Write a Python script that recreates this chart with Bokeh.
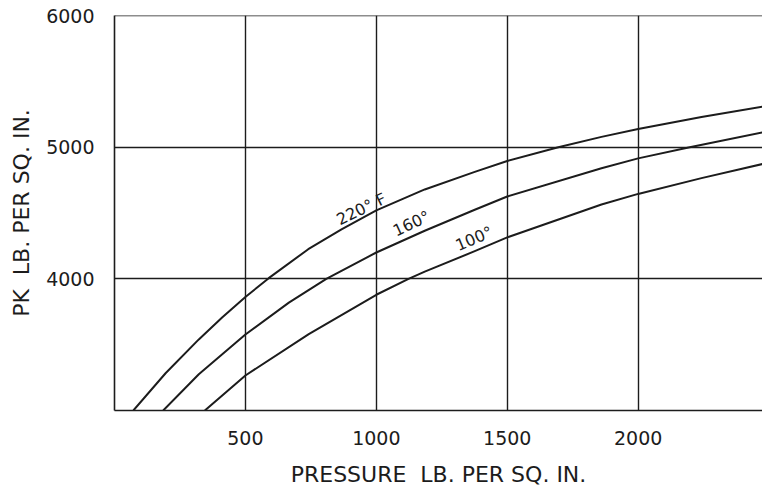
from bokeh.plotting import figure
from bokeh.models import Range1d, FixedTicker, Span, Label
from bokeh.embed import file_html
from bokeh.resources import INLINE

# Data
x_220 = [72, 195, 322, 411, 500, 589, 740, 867, 1000, 1185, 1376, 1500, 1695, 1860, 2000, 2242, 2475]
y_220 = [3000, 3283, 3540, 3706, 3862, 4005, 4225, 4375, 4520, 4679, 4812, 4895, 5000, 5078, 5138, 5229, 5307]

x_160 = [186, 322, 500, 666, 809, 1000, 1185, 1376, 1500, 1860, 2000, 2197, 2475]
y_160 = [3000, 3275, 3577, 3819, 4000, 4200, 4365, 4525, 4625, 4840, 4915, 5000, 5112]

x_100 = [345, 500, 742, 1000, 1123, 1185, 1376, 1500, 1860, 2000, 2242, 2475]
y_100 = [3000, 3266, 3580, 3879, 4000, 4055, 4210, 4315, 4565, 4645, 4765, 4872]

x_ticks = [500, 1000, 1500, 2000]
y_ticks = [4000, 5000, 6000]
y_grid = [4000, 5000]

curve_labels = ["220° F", "160°", "100°"]
label_x = [943, 1134, 1373]
label_y = [4530, 4420, 4305]
label_angle = [26, 25, 23]

INK = "#1c1c1c"
FONT = "DejaVu Sans"
NB = "\u00a0"

p = figure(width=762, height=489, output_backend="svg", toolbar_location=None,
           x_range=Range1d(0, 2475), y_range=Range1d(3000, 6000),
           min_border_left=114, min_border_right=0, min_border_top=15, min_border_bottom=78)
p.outline_line_color = None
p.background_fill_color = "white"
p.border_fill_color = "white"

# grid
p.xgrid.ticker = FixedTicker(ticks=x_ticks)
p.ygrid.ticker = FixedTicker(ticks=y_grid)
for g in (p.xgrid, p.ygrid):
    g.grid_line_color = INK
    g.grid_line_width = 1.4
    g.grid_line_alpha = 1.0

p.add_layout(Span(location=6000, dimension="width", line_color=INK, line_width=1.5))

# axes
p.xaxis.ticker = FixedTicker(ticks=x_ticks)
p.yaxis.ticker = FixedTicker(ticks=y_ticks)
for ax in (p.xaxis, p.yaxis):
    ax.axis_line_color = INK
    ax.axis_line_width = 1.6
    ax.major_tick_line_color = None
    ax.minor_tick_line_color = None
    ax.major_label_text_font = FONT
    ax.major_label_text_font_size = "19px"
    ax.major_label_text_color = INK
    ax.axis_label_text_font = FONT
    ax.axis_label_text_font_size = "22px"
    ax.axis_label_text_font_style = "normal"
    ax.axis_label_text_color = INK
p.xaxis.major_label_standoff = 14
p.yaxis.major_label_standoff = 14
p.xaxis.axis_label = "PRESSURE" + NB + " LB. PER SQ. IN."
p.yaxis.axis_label = "PK" + NB + " LB. PER SQ. IN."
p.xaxis.axis_label_standoff = 14
p.yaxis.axis_label_standoff = 9

# curves
for xs, ys in ((x_220, y_220), (x_160, y_160), (x_100, y_100)):
    p.line(xs, ys, line_color=INK, line_width=2, line_join="round")

for t, lx, ly, a in zip(curve_labels, label_x, label_y, label_angle):
    p.add_layout(Label(x=lx, y=ly, text=t, angle=a, angle_units="deg",
                       text_align="center", text_baseline="middle",
                       text_font=FONT, text_font_size="16px", text_color=INK))

open("out.html", "w").write(file_html(p, INLINE))
